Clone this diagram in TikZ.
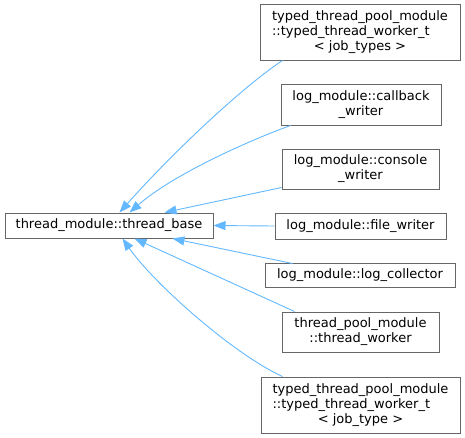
\documentclass[tikz,border=0pt]{standalone}
\usepackage{fontspec}
\setmainfont{DejaVu Sans}
\usetikzlibrary{arrows.meta,calc}
\definecolor{edgeblue}{HTML}{63B8FF}
\definecolor{boxgray}{HTML}{666666}
\tikzset{
  cls/.style={draw=boxgray, line width=1pt, fill=white, inner sep=0pt, align=center,
    font=\fontsize{13}{15}\selectfont, text=black},
  inh/.style={draw=edgeblue, line width=0.9pt, -{Triangle[length=12pt,width=9pt,fill=edgeblue]}}
}
\begin{document}
\begin{tikzpicture}[x=1pt,y=-1pt]
\useasboundingbox (0,0) rectangle (465,437);
\node[cls, minimum width=208pt, minimum height=25pt] (base) at (109,225.5) {thread\_module::thread\_base};
\node[cls, minimum width=200pt, minimum height=56pt] (n1) at (360,32)
  {\begin{tabular}{@{}l@{}}typed\_thread\_pool\_module\\::typed\_thread\_worker\_t\\\multicolumn{1}{@{}c@{}}{< job\_types >}\end{tabular}};
\node[cls, minimum width=160pt, minimum height=41pt] (n2) at (361,104.5) {log\_module::callback\\\_writer};
\node[cls, minimum width=157pt, minimum height=40pt] (n3) at (360.5,169) {log\_module::console\\\_writer};
\node[cls, minimum width=171pt, minimum height=26pt] (n4) at (360.5,226) {log\_module::file\_writer};
\node[cls, minimum width=190pt, minimum height=24pt] (n5) at (360,275) {log\_module::log\_collector};
\node[cls, minimum width=157pt, minimum height=40pt] (n6) at (360.5,332) {thread\_pool\_module\\::thread\_worker};
\node[cls, minimum width=199pt, minimum height=56pt] (n7) at (360.5,405)
  {\begin{tabular}{@{}l@{}}typed\_thread\_pool\_module\\::typed\_thread\_worker\_t\\\multicolumn{1}{@{}c@{}}{< job\_type >}\end{tabular}};
% edges
\draw[inh] ($(n1.south west)+(23,0)$) .. controls (245,85) and (175,150) .. ($(base.north west)+(115,0)$);
\draw[inh] ($(n2.south west)+(10,0)$) .. controls (253,139) and (175,173) .. ($(base.north west)+(125,0)$);
\draw[inh] ($(n3.south west)+(0,-2)$) -- ($(base.north west)+(160,0)$);
\draw[inh] (n4.west) -- (base.east);
\draw[inh] ($(n5.north west)+(28,1)$) -- ($(base.south west)+(168,0)$);
\draw[inh] ($(n6.north west)+(13,0)$) -- ($(base.south west)+(130,0)$);
\draw[inh] ($(n7.north west)+(22,0)$) .. controls (235,355) and (155,285) .. ($(base.south west)+(118,0)$);
\end{tikzpicture}
\end{document}
